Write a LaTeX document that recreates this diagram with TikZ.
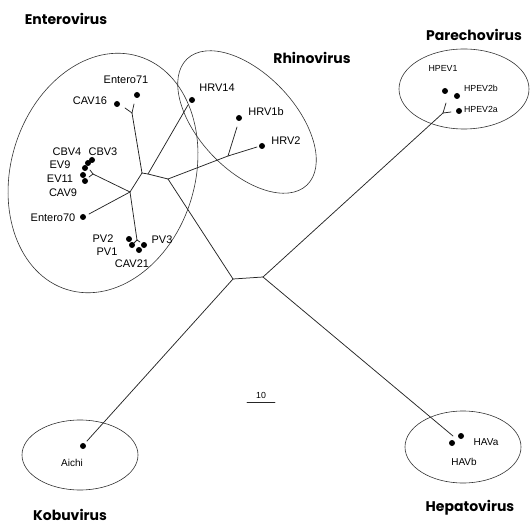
\documentclass[tikz,border=0pt]{standalone}
\usepackage{fontspec}
\setmainfont{Liberation Sans}
\newfontfamily\titlefont{Poppins}
\begin{document}
\begin{tikzpicture}[x=1pt,y=-1pt,
  branch/.style={line width=0.75pt, black!85, line cap=round},
  group/.style={line width=0.6pt, black!80},
  leaf/.style={circle, fill=black, inner sep=0pt, minimum size=6pt},
  lbl/.style={font=\fontsize{11}{11}\selectfont, inner sep=0pt},
  lblsmall/.style={font=\fontsize{8.8}{9}\selectfont, inner sep=0pt},
  lblmid/.style={font=\fontsize{10}{10}\selectfont, inner sep=0pt},
  title/.style={font=\titlefont\bfseries\fontsize{14}{14}\selectfont, inner sep=0pt}]
\useasboundingbox (0,0) rectangle (532,529);

% group outlines
\coordinate (ecen) at (103,173);
\coordinate (rcen) at (247,122);
\coordinate (pcen) at (464,89);
\coordinate (kcen) at (80,455);
\coordinate (hcen) at (463,447);
\draw[group, rotate around={-17:(ecen)}] (ecen) ellipse [x radius=92pt, y radius=122pt];
\draw[group, rotate around={-46.5:(rcen)}] (rcen) ellipse [x radius=87pt, y radius=48pt];
\draw[group] (pcen) ellipse [x radius=65pt, y radius=40pt];
\draw[group] (kcen) ellipse [x radius=58pt, y radius=35pt];
\draw[group] (hcen) ellipse [x radius=58pt, y radius=36pt];

% internal nodes of the tree
\coordinate (nE71) at (132,113);
\coordinate (nA) at (142,173);
\coordinate (nB) at (148,174);
\coordinate (nC) at (168,179);
\coordinate (nD) at (130,192);
\coordinate (nH) at (228,156);
\coordinate (nL) at (233,279);
\coordinate (nR) at (263,277);
\coordinate (nP) at (443,113);

% branch tips
\coordinate (tCAV16) at (125,108);
\coordinate (tE71) at (134,104);
\coordinate (tHRV14) at (188,105);
\coordinate (tHRV1b) at (237,127);
\coordinate (tHRV2) at (257,147);
\coordinate (tCBV) at (93,174);
\coordinate (tCBVa) at (90,170);
\coordinate (tCBVb) at (89,177);
\coordinate (tE70) at (89,214);
\coordinate (tPV) at (137,240);
\coordinate (tPVa) at (134,243);
\coordinate (tPVb) at (140,242);
\coordinate (tHPa) at (446,103);
\coordinate (tHPb) at (451,112);
\coordinate (tHAV) at (453,436);
\coordinate (tAichi) at (87,441);

% branches
\draw[branch] (nE71) -- (nA);
\draw[branch] (nE71) -- (tCAV16);
\draw[branch] (nE71) -- (tE71);
\draw[branch] (nA) -- (nB) -- (nC);
\draw[branch] (nB) -- (tHRV14);
\draw[branch] (nA) -- (nD);
\draw[branch] (nD) -- (tCBV);
\draw[branch] (tCBV) -- (tCBVa);
\draw[branch] (tCBV) -- (tCBVb);
\draw[branch] (nD) -- (tE70);
\draw[branch] (nD) -- (tPV);
\draw[branch] (tPV) -- (tPVa);
\draw[branch] (tPV) -- (tPVb);
\draw[branch] (nC) -- (nH);
\draw[branch] (nH) -- (tHRV1b);
\draw[branch] (nH) -- (tHRV2);
\draw[branch] (nC) -- (nL);
\draw[branch] (nL) -- (nR);
\draw[branch] (nL) -- (tAichi);
\draw[branch] (nR) -- (nP);
\draw[branch] (nR) -- (tHAV);
\draw[branch] (nP) -- (tHPa);
\draw[branch] (nP) -- (tHPb);

% leaves
\node[leaf] (dCAV16) at (117,104) {};
\node[leaf] (dE71) at (137,95) {};
\node[leaf] (dCBV3) at (92,160) {};
\node[leaf] (dCBV4) at (88,163) {};
\node[leaf] (dEV9) at (85,168) {};
\node[leaf] (dEV11) at (83,175) {};
\node[leaf] (dCAV9) at (85,181) {};
\node[leaf] (dE70) at (83,217) {};
\node[leaf] (dPV2) at (129,239) {};
\node[leaf] (dPV1) at (132,245) {};
\node[leaf] (dCAV21) at (139,250) {};
\node[leaf] (dPV3) at (144,245) {};
\node[leaf] (dHRV14) at (192,100) {};
\node[leaf] (dHRV1b) at (239,118) {};
\node[leaf] (dHRV2) at (262,146) {};
\node[leaf] (dHPEV1) at (445,91) {};
\node[leaf] (dHPEV2b) at (457,96) {};
\node[leaf] (dHPEV2a) at (459,111) {};
\node[leaf] (dHAVb) at (452,443) {};
\node[leaf] (dHAVa) at (461,436) {};
\node[leaf] (dAichi) at (83,446) {};

% leaf labels
\node[lbl] (lE71) at (126,80) {Entero71};
\node[lbl] (lCAV16) at (90,101) {CAV16};
\node[lbl] (lCBV4) at (67,152) {CBV4};
\node[lbl] (lCBV3) at (103,152) {CBV3};
\node[lbl] (lEV9) at (60,165) {EV9};
\node[lbl] (lEV11) at (60,179) {EV11};
\node[lbl] (lCAV9) at (63,193) {CAV9};
\node[lbl] (lE70) at (53,218) {Entero70};
\node[lbl] (lPV2) at (103,239) {PV2};
\node[lbl] (lPV1) at (107,252) {PV1};
\node[lbl] (lCAV21) at (132,264) {CAV21};
\node[lbl] (lPV3) at (162,240) {PV3};
\node[lbl] (lHRV14) at (217,88) {HRV14};
\node[lbl] (lHRV1b) at (266,112) {HRV1b};
\node[lbl] (lHRV2) at (286,141) {HRV2};
\node[lblsmall] (lHPEV1) at (443,68) {HPEV1};
\node[lblsmall] (lHPEV2b) at (481,88) {HPEV2b};
\node[lblsmall] (lHPEV2a) at (481,109) {HPEV2a};
\node[lblmid] (lHAVa) at (486,442) {HAVa};
\node[lblmid] (lHAVb) at (464,462) {HAVb};
\node[lblmid] (lAichi) at (72,463) {Aichi};

% scale bar
\node[lblsmall] (sbtext) at (261,395) {10};
\coordinate (sbL) at (247,402);
\coordinate (sbR) at (275,402);
\draw[branch] (sbL) -- (sbR);

% genus names
\node[title] (tEntero) at (66,19) {Enterovirus};
\node[title] (tRhino) at (312,58) {Rhinovirus};
\node[title] (tParecho) at (474,35) {Parechovirus};
\node[title] (tKobu) at (70,515) {Kobuvirus};
\node[title] (tHepato) at (470,508) {Hepatovirus};
\end{tikzpicture}
\end{document}
